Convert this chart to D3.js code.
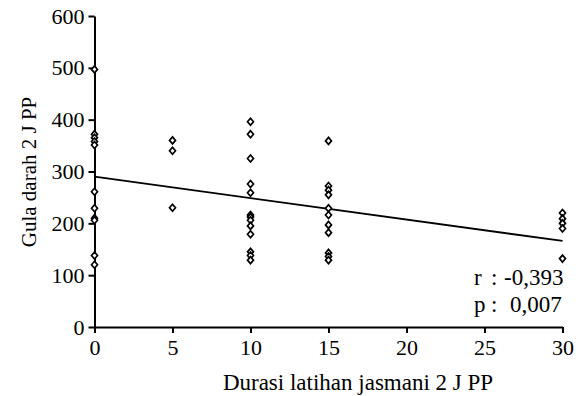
<!DOCTYPE html>
<html><head><meta charset="utf-8">
<script src="https://cdn.jsdelivr.net/npm/d3@7"></script>
<style>body{margin:0;background:#fff}svg{display:block}</style>
</head><body><div id="c"></div>
<script>
const xTicks=[0,5,10,15,20,25,30];
const yTicks=[0,100,200,300,400,500,600];
const xs0=[0,0,0,0,0,0,0,0,0,0,0];
const ys0=[497,372,365,358,351,261,229,210,206,138,120];
const xs5=[5,5,5];
const ys5=[360,340,230];
const xs10=[10,10,10,10,10,10,10,10,10,10,10,10,10];
const ys10=[396,372,325,276,259,216,212,206,195,179,145,138,129];
const xs15=[15,15,15,15,15,15,15,15,15,15,15];
const ys15=[359,272,264,255,229,216,197,182,143,136,129];
const xs30=[30,30,30,30,30];
const ys30=[220,209,200,190,132];
const trendX=[0,30];
const trendY=[290,166];
const statLabels=["r","p"];
const statValues=["-0,393","0,007"];
const xTitle="Durasi latihan jasmani 2 J PP";
const yTitle="Gula darah 2 J PP";

const W=580,H=396;
const FF="'Liberation Serif', 'Times New Roman', serif";
const svg=d3.select("#c").append("svg").attr("width",W).attr("height",H)
  .style("font-family",FF);
const x=d3.scaleLinear().domain([0,30]).range([94.5,562.5]);
const y=d3.scaleLinear().domain([0,600]).range([327,16]);

const fs="22px", fsT="23px";
const gx=svg.append("g").attr("transform","translate(0,"+y(0)+")")
  .call(d3.axisBottom(x).tickValues(xTicks).tickSize(6).tickSizeOuter(0).tickPadding(6));
const gy=svg.append("g").attr("transform","translate("+x(0)+",0)")
  .call(d3.axisLeft(y).tickValues(yTicks).tickSize(6).tickSizeOuter(0).tickPadding(4));
[gx,gy].forEach(g=>{
  g.attr("font-family",null).attr("font-size",null);
  g.selectAll("path.domain").attr("stroke","#000").attr("stroke-width",2);
  g.selectAll(".tick line").attr("stroke","#000").attr("stroke-width",2);
  g.selectAll(".tick text").style("font-size",fs).style("font-family",FF).attr("fill","#000");
});

// trend line
svg.append("line").attr("x1",x(trendX[0])).attr("y1",y(trendY[0]))
  .attr("x2",x(trendX[1])).attr("y2",y(trendY[1]))
  .attr("stroke","#000").attr("stroke-width",1.8);

const pts=[];
[[xs0,ys0],[xs5,ys5],[xs10,ys10],[xs15,ys15],[xs30,ys30]].forEach(([a,b])=>a.forEach((v,i)=>pts.push([v,b[i]])));
const dia="M0,-3.5L3,0L0,3.5L-3,0Z";
svg.append("g").selectAll("path").data(pts).join("path")
  .attr("d",dia).attr("transform",d=>"translate("+x(d[0])+","+y(d[1])+")")
  .attr("fill","#fff").attr("stroke","#000").attr("stroke-width",1.7);

function txt(s){return svg.append("text").style("font-family",FF).style("font-size",s||fsT).attr("fill","#000");}
statLabels.forEach((l,i)=>{
  const yy=285+i*27;
  txt().attr("x",474).attr("y",yy).text(l);
  txt().attr("x",491).attr("y",yy).text(":");
  txt().attr("x",statValues[i].startsWith("-")?504:510).attr("y",yy).text(statValues[i]);
});

txt().attr("x",358).attr("y",390).attr("text-anchor","middle").text(xTitle);
txt("21px").attr("transform","translate(36,172) rotate(-90)").attr("text-anchor","middle").text(yTitle);
</script></body></html>
